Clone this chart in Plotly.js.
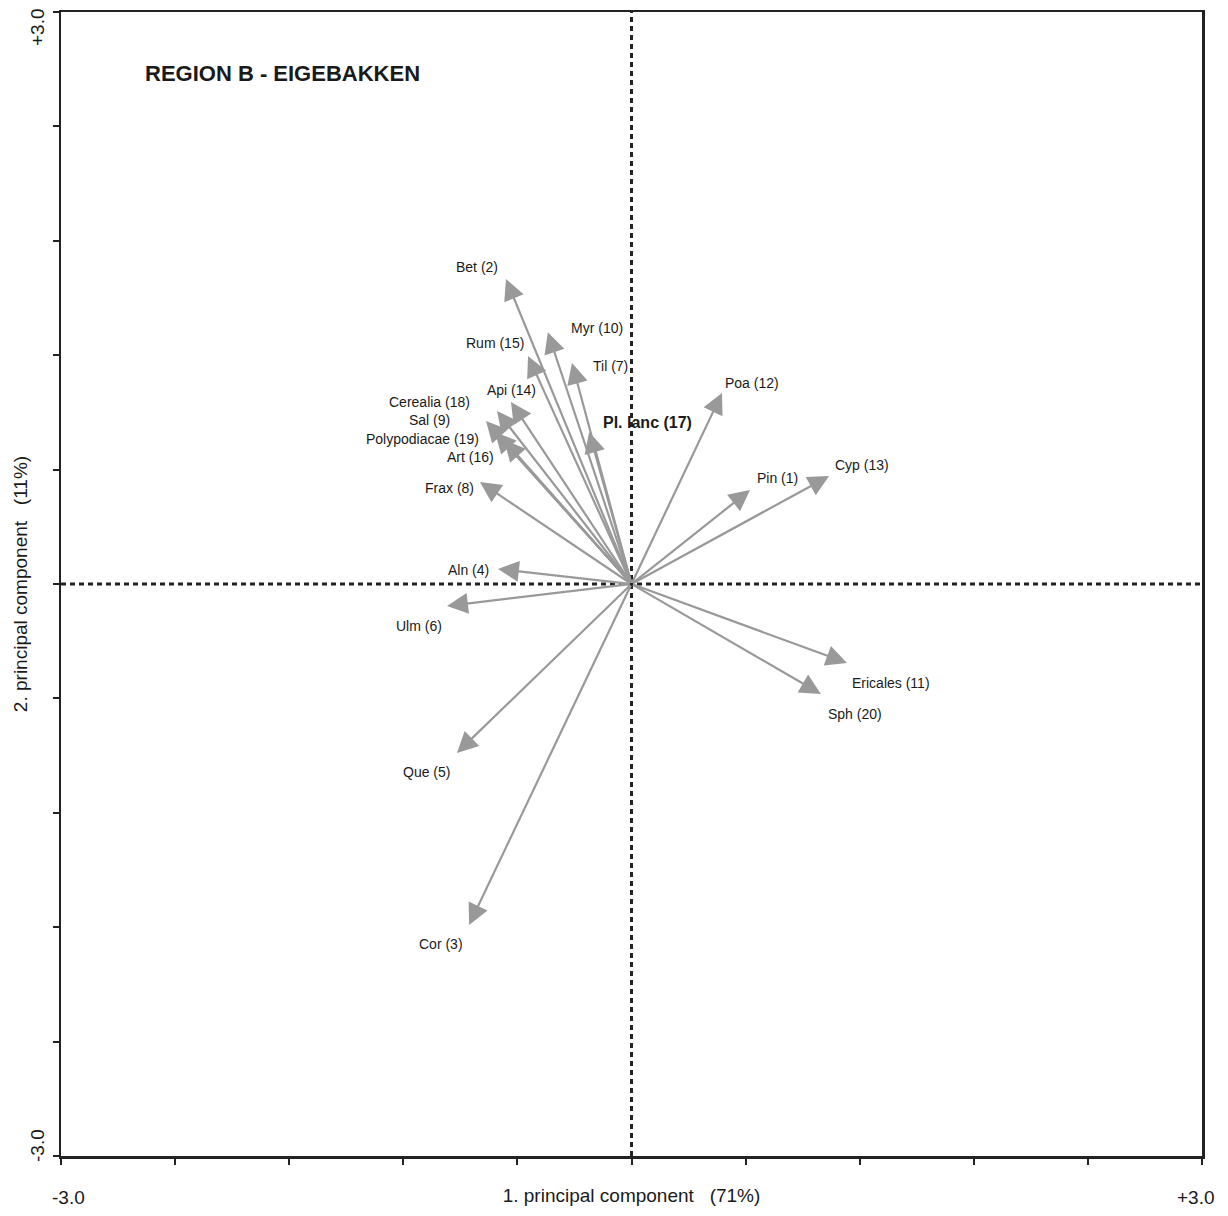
<!DOCTYPE html>
<html>
<head>
<meta charset="utf-8">
<script src="https://cdn.plot.ly/plotly-3.0.1.min.js"></script>
<style>html,body{margin:0;padding:0;background:#fff;}#chart{width:1228px;height:1216px;}</style>
</head>
<body>
<div id="chart"></div>
<script>
// ---- data ----
const taxa = ['Pin (1)','Bet (2)','Cor (3)','Aln (4)','Que (5)','Ulm (6)','Til (7)','Frax (8)','Sal (9)','Myr (10)',
  'Ericales (11)','Poa (12)','Cyp (13)','Api (14)','Rum (15)','Art (16)','Pl. lanc (17)','Cerealia (18)','Polypodiacae (19)','Sph (20)'];
const pc1 = [0.623,-0.660,-0.854,-0.702,-0.918,-0.970,-0.313,-0.797,-0.765,-0.440,
  1.133,0.476,1.039,-0.634,-0.544,-0.670,-0.223,-0.707,-0.718,0.996];
const pc2 = [0.493,1.600,-1.788,0.079,-0.886,-0.115,1.159,0.535,0.855,1.320,
  -0.414,1.002,0.566,0.955,1.196,0.755,0.797,0.907,0.797,-0.577];
const tickValues = [-3,-2.4,-1.8,-1.2,-0.6,0,0.6,1.2,1.8,2.4,3];
const endTickLabels = ['-3.0','+3.0'];
const xTitle = '\u00A0\u00A0\u00A01. principal component\u00A0\u00A0\u00A0(71%)';
const yTitle = '2. principal component\u00A0\u00A0\u00A0(11%)';
const chartTitle = 'REGION B - EIGEBAKKEN';
const highlighted = 'Pl. lanc (17)';

// ---- layout helpers (pixel offsets of each label from its arrow tip) ----
const labelOffsets = [[28,-12],[-29,-12],[-28,19],[-30,1],[-30,19],[-28,20],[39,3],[-30,6],[-57,-1],[49,-4],
  [44,20],[30,-10],[33,-11],[1,-12],[-33,-13],[-34,17],[58,-10],[-68,-9],[-72,7],[34,20]];

const FONT = '"Liberation Sans Narrow", "Arial Narrow", "Liberation Sans", Arial, sans-serif';
const TXT = '#1a1a1a';
const ARROW = '#999999';

const annotations = [];
taxa.forEach((name, i) => {
  annotations.push({
    x: pc1[i], y: pc2[i], xref: 'x', yref: 'y',
    ax: 0, ay: 0, axref: 'x', ayref: 'y',
    text: '', showarrow: true, arrowhead: 2, arrowsize: 1.9, arrowwidth: 2.2,
    arrowcolor: ARROW, standoff: 0, startstandoff: 0
  });
});
taxa.forEach((name, i) => {
  const bold = name === highlighted;
  annotations.push({
    x: pc1[i], y: pc2[i], xref: 'x', yref: 'y',
    text: name, showarrow: false,
    xshift: labelOffsets[i][0], yshift: -labelOffsets[i][1],
    xanchor: 'center', yanchor: 'middle',
    font: {family: FONT, size: bold ? 16 : 14, color: TXT, weight: bold ? 'bold' : 'normal'}
  });
});
// end tick labels
annotations.push({x: tickValues[0], xref: 'x', y: 0, yref: 'paper', text: endTickLabels[0], showarrow: false,
  xanchor: 'center', yanchor: 'middle', xshift: 7, yshift: -41, font: {family: FONT, size: 19, color: TXT}});
annotations.push({x: tickValues[tickValues.length-1], xref: 'x', y: 0, yref: 'paper', text: endTickLabels[1], showarrow: false,
  xanchor: 'center', yanchor: 'middle', xshift: -6, yshift: -41, font: {family: FONT, size: 19, color: TXT}});
annotations.push({x: 0, xref: 'paper', y: tickValues[tickValues.length-1], yref: 'y', text: endTickLabels[1], showarrow: false,
  textangle: -90, xanchor: 'center', yanchor: 'middle', xshift: -24, yshift: -15, font: {family: FONT, size: 19, color: TXT}});
annotations.push({x: 0, xref: 'paper', y: tickValues[0], yref: 'y', text: endTickLabels[0], showarrow: false,
  textangle: -90, xanchor: 'center', yanchor: 'middle', xshift: -24, yshift: 10, font: {family: FONT, size: 19, color: TXT}});

const axisCommon = {
  range: [-3, 3], showgrid: false, zeroline: false,
  showline: true, mirror: true, linecolor: '#222', linewidth: 2.5,
  ticks: 'outside', ticklen: 6, tickwidth: 2, tickcolor: '#222',
  tickmode: 'array', tickvals: tickValues, showticklabels: false,
  fixedrange: true, automargin: false
};

const layout = {
  width: 1228, height: 1216,
  margin: {l: 61, r: 26, t: 12, b: 60, pad: 0},
  paper_bgcolor: '#fff', plot_bgcolor: '#fff',
  showlegend: false,
  title: {text: chartTitle, xref: 'container', x: 145/1228, xanchor: 'left',
    yref: 'container', y: 1 - 73/1216, yanchor: 'middle',
    font: {family: FONT, size: 22, color: TXT, weight: 'bold'}},
  xaxis: Object.assign({}, axisCommon, {title: {text: xTitle, standoff: 25, font: {family: FONT, size: 19, color: TXT}}}),
  yaxis: Object.assign({}, axisCommon, {title: {text: yTitle, standoff: 20, font: {family: FONT, size: 19, color: TXT}}}),
  shapes: [
    {type: 'line', xref: 'x', yref: 'paper', x0: 0, x1: 0, y0: 0, y1: 1,
      line: {color: '#222', width: 3, dash: '5px,4px'}},
    {type: 'line', xref: 'paper', yref: 'y', x0: 0, x1: 1, y0: 0, y1: 0,
      line: {color: '#222', width: 3, dash: '5px,4px'}}
  ],
  annotations: annotations
};

Plotly.newPlot('chart', [{x: [], y: [], type: 'scatter', mode: 'markers', hoverinfo: 'skip'}], layout,
  {displayModeBar: false, staticPlot: true});
</script>
</body>
</html>
